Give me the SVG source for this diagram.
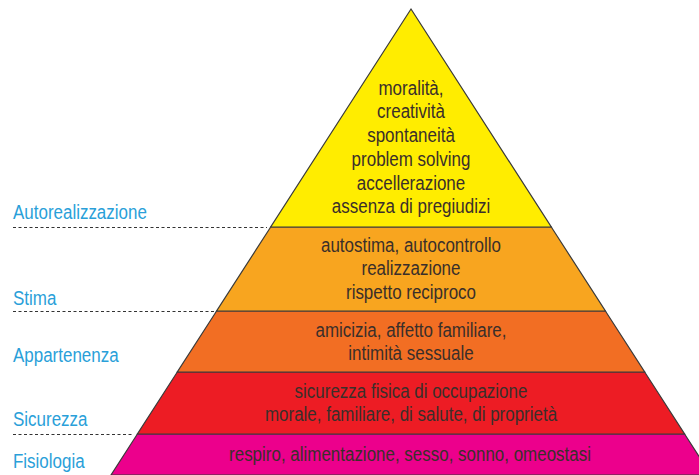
<svg xmlns="http://www.w3.org/2000/svg" width="699" height="475" viewBox="0 0 699 475">
<style>
.band{stroke:#3a3a3a;stroke-width:1.2;stroke-linejoin:miter}
.t{font-family:"Liberation Sans",Arial,sans-serif;font-size:19.5px;fill:#3a2f2a;text-anchor:middle}
.lbl{font-family:"Liberation Sans",Arial,sans-serif;font-size:19.5px;fill:#2a9fd9}
.dash{stroke:#333;stroke-width:1;stroke-dasharray:3 2.5;fill:none}
</style>
<rect width="699" height="475" fill="#ffffff"/>
<g id="level-fisiologia">
<polygon class="band" fill="#ec008c" points="137.4,434 684.6,434 711,475 111,475"/>
<g transform="translate(410,0) scale(0.87,1)">
<text class="t" x="0" y="461">respiro, alimentazione, sesso, sonno, omeostasi</text>
</g>
</g>
<g id="level-sicurezza">
<polygon class="band" fill="#ed1c24" points="177.3,372 644.7,372 684.6,434 137.4,434"/>
<g transform="translate(411,0) scale(0.87,1)">
<text class="t" x="0" y="398">sicurezza fisica di occupazione</text>
<text class="t" x="0" y="421.5">morale, familiare, di salute, di proprietà</text>
</g>
</g>
<g id="level-appartenenza">
<polygon class="band" fill="#f26e23" points="216.6,311 605.4,311 644.7,372 177.3,372"/>
<g transform="translate(411,0) scale(0.87,1)">
<text class="t" x="0" y="337.5">amicizia, affetto familiare,</text>
<text class="t" x="0" y="360.5">intimità sessuale</text>
</g>
</g>
<g id="level-stima">
<polygon class="band" fill="#f8a51f" points="270.7,227 551.3,227 605.4,311 216.6,311"/>
<g transform="translate(411,0) scale(0.87,1)">
<text class="t" x="0" y="252">autostima, autocontrollo</text>
<text class="t" x="0" y="275.5">realizzazione</text>
<text class="t" x="0" y="299">rispetto reciproco</text>
</g>
</g>
<g id="level-autorealizzazione">
<polygon class="band" fill="#ffed00" points="411,9 551.3,227 270.7,227"/>
<g transform="translate(411,0) scale(0.87,1)">
<text class="t" x="0" y="95">moralità,</text>
<text class="t" x="0" y="118.5">creatività</text>
<text class="t" x="0" y="142">spontaneità</text>
<text class="t" x="0" y="166">problem solving</text>
<text class="t" x="0" y="190">accellerazione</text>
<text class="t" x="0" y="213.5">assenza di pregiudizi</text>
</g>
</g>
<g id="connectors">
<line class="dash" x1="13" y1="227.5" x2="267" y2="227.5"/>
<line class="dash" x1="13" y1="311.5" x2="214" y2="311.5"/>
<line class="dash" x1="13" y1="434.5" x2="133" y2="434.5"/>
</g>
<g id="labels" transform="translate(13,0) scale(0.87,1)">
<text class="lbl" x="0" y="219">Autorealizzazione</text>
<text class="lbl" x="0" y="305">Stima</text>
<text class="lbl" x="0" y="362">Appartenenza</text>
<text class="lbl" x="0" y="426">Sicurezza</text>
<text class="lbl" x="0" y="468">Fisiologia</text>
</g>
</svg>
